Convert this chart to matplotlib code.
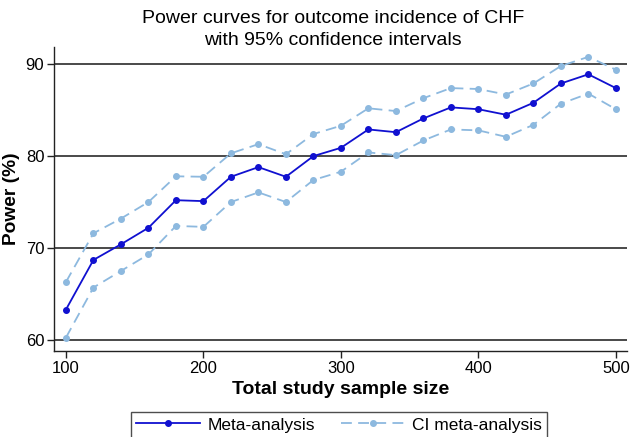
import matplotlib
matplotlib.use("Agg")
import matplotlib.pyplot as plt

plt.rcParams['font.family'] = ['Liberation Sans', 'DejaVu Sans']

sample_size = [100, 120, 140, 160, 180, 200, 220, 240, 260, 280, 300,
               320, 340, 360, 380, 400, 420, 440, 460, 480, 500]
power = [63.3, 68.7, 70.4, 72.2, 75.2, 75.1, 77.75, 78.8, 77.75, 80.0, 80.9,
         82.9, 82.6, 84.1, 85.3, 85.1, 84.5, 85.8, 87.9, 88.9, 87.4]
ci_upper = [66.3, 71.6, 73.2, 75.0, 77.8, 77.75, 80.3, 81.3, 80.2, 82.4, 83.3,
            85.2, 84.9, 86.3, 87.4, 87.3, 86.7, 87.9, 89.8, 90.8, 89.4]
ci_lower = [60.25, 65.7, 67.5, 69.3, 72.4, 72.3, 75.0, 76.05, 75.0, 77.4, 78.3,
            80.4, 80.1, 81.7, 82.9, 82.8, 82.1, 83.4, 85.7, 86.8, 85.1]
y_ticks = [60, 70, 80, 90]
x_ticks = [100, 200, 300, 400, 500]

fig = plt.figure(figsize=(6.3, 4.37), dpi=100)
ax = fig.add_axes([0.0857, 0.197, 0.9093, 0.695])

main_color = '#1010D0'
ci_color = '#8DB9DF'

for yv in y_ticks:
    ax.axhline(yv, color='#3a3a3a', lw=1.3, zorder=1)

l1, = ax.plot(sample_size, power, color=main_color, lw=1.3, marker='o', ms=4,
              label='Meta-analysis', zorder=3)
l2, = ax.plot(sample_size, ci_upper, color=ci_color, lw=1.3, ls=(0, (6, 3.5)),
              marker='o', ms=4, label='CI meta-analysis', zorder=2)
ax.plot(sample_size, ci_lower, color=ci_color, lw=1.3, ls=(0, (6, 3.5)),
        marker='o', ms=4, zorder=2)

ax.set_xlim(91.3, 508)
ax.set_ylim(58.8, 91.85)
ax.set_xticks(x_ticks)
ax.set_yticks(y_ticks)
ax.tick_params(axis='both', labelsize=12, direction='out', length=5, width=1,
               color='#222222', pad=2)
for s in ['top', 'right']:
    ax.spines[s].set_visible(False)
for s in ['left', 'bottom']:
    ax.spines[s].set_color('#222222')
    ax.spines[s].set_linewidth(1)

ax.set_xlabel('Total study sample size', fontsize=14, fontweight='bold', labelpad=4)
ax.set_ylabel('Power (%)', fontsize=13.8, fontweight='bold', labelpad=4)
fig.text(0.528, 0.976, 'Power curves for outcome incidence of CHF\nwith 95% confidence intervals',
         ha='center', va='top', fontsize=14, linespacing=1.35)

leg = fig.legend(handles=[l1, l2], loc='center', bbox_to_anchor=(0.538, 0.0275),
                 ncol=2, fontsize=12.5, frameon=True, fancybox=False,
                 edgecolor='#222222', handlelength=3.7, columnspacing=1.5,
                 borderpad=0.3, handletextpad=0.4)
leg.get_frame().set_linewidth(1)

fig.savefig('out.png', dpi=100)
